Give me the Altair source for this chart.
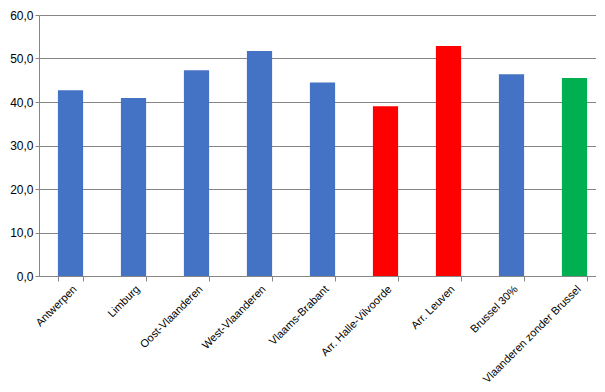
import altair as alt
import pandas as pd

categories = ["Antwerpen", "Limburg", "Oost-Vlaanderen", "West-Vlaanderen", "Vlaams-Brabant",
              "Arr. Halle-Vilvoorde", "Arr. Leuven", "Brussel 30%", "Vlaanderen zonder Brussel"]
values = [42.7, 40.9, 47.3, 51.7, 44.5, 39.0, 52.9, 46.4, 45.5]
groups = ["blue", "blue", "blue", "blue", "blue", "red", "red", "blue", "green"]
y_ticks = [0, 10, 20, 30, 40, 50, 60]

df = pd.DataFrame({"cat": categories, "val": values, "grp": groups})

font = "Liberation Sans"

chart = alt.Chart(df).mark_bar().encode(
    x=alt.X("cat:N", sort=categories, title=None,
            scale=alt.Scale(paddingInner=0.6, paddingOuter=0.3),
            axis=alt.Axis(labelAngle=-45, labelAlign="right", labelFontSize=11, labelFont=font,
                          labelColor="#000000", tickBand="extent", tickSize=5, tickColor="#868686",
                          domainColor="#868686", labelPadding=2)),
    y=alt.Y("val:Q", title=None,
            scale=alt.Scale(domain=[0, 60], nice=False),
            axis=alt.Axis(values=y_ticks, labelExpr="replace(format(datum.value, '.1f'), '.', ',')",
                          labelFontSize=12, labelFont=font, labelColor="#000000",
                          tickSize=4, tickColor="#868686", domainColor="#868686",
                          gridColor="#868686", gridWidth=1, labelPadding=2)),
    color=alt.Color("grp:N", legend=None,
                    scale=alt.Scale(domain=["blue", "red", "green"],
                                    range=["#4472C4", "#FF0000", "#00B050"])),
).properties(
    width=567, height=261,
    padding={"left": 1, "top": 1, "right": -10, "bottom": 0},
).configure_view(stroke=None).configure_axis(domainWidth=1, tickWidth=1)

chart.save("out.html", embed_options={"renderer": "svg", "actions": False})
